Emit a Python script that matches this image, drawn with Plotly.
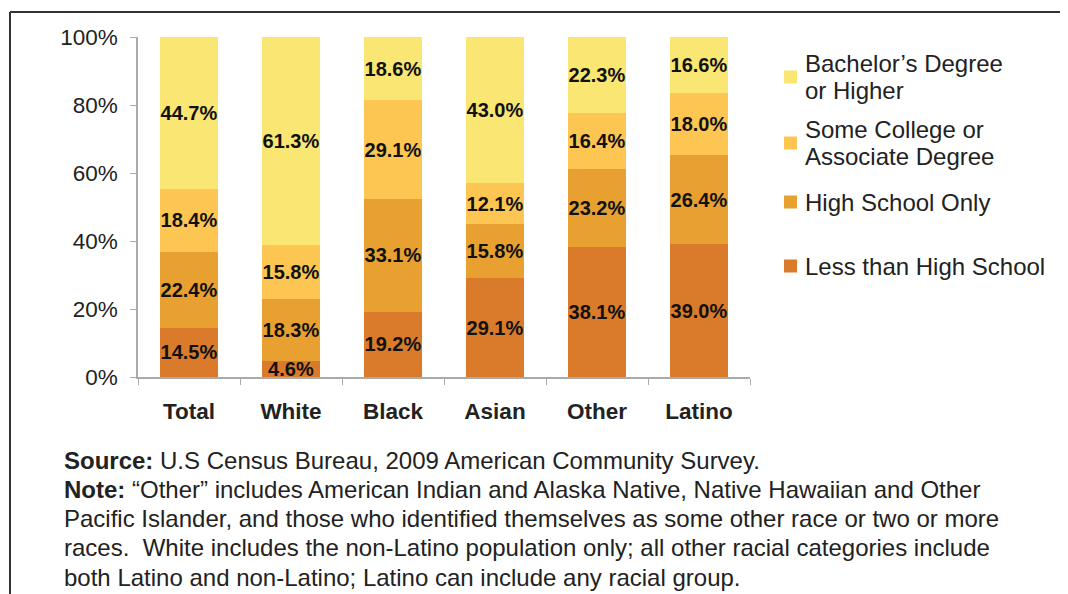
import plotly.graph_objects as go

categories = ["Total", "White", "Black", "Asian", "Other", "Latino"]
less_than_hs = [14.5, 4.6, 19.2, 29.1, 38.1, 39.0]
high_school = [22.4, 18.3, 33.1, 15.8, 23.2, 26.4]
some_college = [18.4, 15.8, 29.1, 12.1, 16.4, 18.0]
bachelors = [44.7, 61.3, 18.6, 43.0, 22.3, 16.6]

series_names = ["Less than High School", "High School Only",
                "Some College or Associate Degree", "Bachelor’s Degree or Higher"]
legend_lines = [["Less than High School"], ["High School Only"],
                ["Some College or", "Associate Degree"], ["Bachelor’s Degree", "or Higher"]]
series_values = [less_than_hs, high_school, some_college, bachelors]
series_colors = ["#D97B2B", "#E8A030", "#FDC652", "#F9E673"]

y_ticks = [0, 20, 40, 60, 80, 100]
y_tick_labels = ["0%", "20%", "40%", "60%", "80%", "100%"]

source_text = "<b>Source:</b> U.S Census Bureau, 2009 American Community Survey."
note_lines = [
    "<b>Note:</b> “Other” includes American Indian and Alaska Native, Native Hawaiian and Other",
    "Pacific Islander, and those who identified themselves as some other race or two or more",
    "races.  White includes the non-Latino population only; all other racial categories include",
    "both Latino and non-Latino; Latino can include any racial group.",
]

FONT = "Liberation Sans, Arial, sans-serif"
OFF = 8  # page body margin
PW, PH = 1068, 594
W, H = PW - OFF, PH - OFF
Lp, Rp, Tp, Bp = 138, 750, 37, 377  # plot area in page pixels

def px(x):
    return (x - Lp) / (Rp - Lp)

def py(y):
    return (Bp - y) / (Bp - Tp)

fig = go.Figure()
for name, vals, col in zip(series_names, series_values, series_colors):
    fig.add_trace(go.Bar(
        x=categories, y=vals, name=name,
        marker=dict(color=col, line=dict(width=0)),
        text=[f"{v:.1f}%" for v in vals],
        textposition="inside", insidetextanchor="middle",
        textangle=0, constraintext="none",
        insidetextfont=dict(family=FONT, size=20, color="#111"),
        texttemplate="<b>%{text}</b>",
        showlegend=False, hoverinfo="skip",
    ))

shapes = []
annotations = []

# legend (manual)
legend_rows = [(77, 3), (143, 2), (202, 1), (266, 0)]
for yc, idx in legend_rows:
    shapes.append(dict(type="rect", xref="paper", yref="paper",
                       x0=px(784), x1=px(797), y0=py(yc + 6.5), y1=py(yc - 6.5),
                       fillcolor=series_colors[idx], line=dict(width=0)))
    lines = legend_lines[idx]
    n = len(lines)
    for j, ln in enumerate(lines):
        yy = yc + (j - (n - 1) / 2) * 26.5
        annotations.append(dict(xref="paper", yref="paper", x=px(803), y=py(yy),
                                xanchor="left", yanchor="middle", align="left",
                                text=ln, showarrow=False,
                                font=dict(family=FONT, size=24, color="#222")))

# frame
shapes.append(dict(type="line", xref="paper", yref="paper", x0=px(10), x1=px(1063),
                   y0=py(12), y1=py(12), line=dict(color="#333", width=2)))
shapes.append(dict(type="line", xref="paper", yref="paper", x0=px(10), x1=px(10),
                   y0=py(12), y1=py(600), line=dict(color="#333", width=2)))
shapes.append(dict(type="line", xref="paper", yref="paper", x0=px(1063), x1=px(1063),
                   y0=py(12), y1=py(600), line=dict(color="#333", width=2)))

# footer
footer = [source_text] + note_lines
for i, line in enumerate(footer):
    annotations.append(dict(xref="paper", yref="paper", x=px(62), y=py(460 + i * 29.3),
                            xanchor="left", yanchor="middle", align="left",
                            text=line, showarrow=False,
                            font=dict(family=FONT, size=24, color="#222")))

fig.update_layout(
    barmode="stack", bargap=0.43,
    width=W, height=H,
    margin=dict(l=Lp - OFF, r=W - (Rp - OFF), t=Tp - OFF, b=H - (Bp - OFF), pad=0),
    paper_bgcolor="white", plot_bgcolor="white",
    shapes=shapes, annotations=annotations,
    xaxis=dict(showline=True, linecolor="#AAAAAA", linewidth=1.5,
               ticks="outside", tickson="boundaries", ticklen=6, tickcolor="#AAAAAA",
               tickfont=dict(family=FONT, size=22.5, color="#222"),
               tickprefix="<b>", ticksuffix="</b>", ticklabelstandoff=13,
               showgrid=False, zeroline=False, fixedrange=True),
    yaxis=dict(range=[0, 100], tickvals=y_ticks, ticktext=y_tick_labels,
               showline=True, linecolor="#AAAAAA", linewidth=1.5,
               ticks="outside", ticklen=6, tickcolor="#AAAAAA",
               tickfont=dict(family=FONT, size=22.5, color="#222"),
               ticklabelstandoff=8, showgrid=False, zeroline=False, fixedrange=True),
)

fig.write_html("out.html")
